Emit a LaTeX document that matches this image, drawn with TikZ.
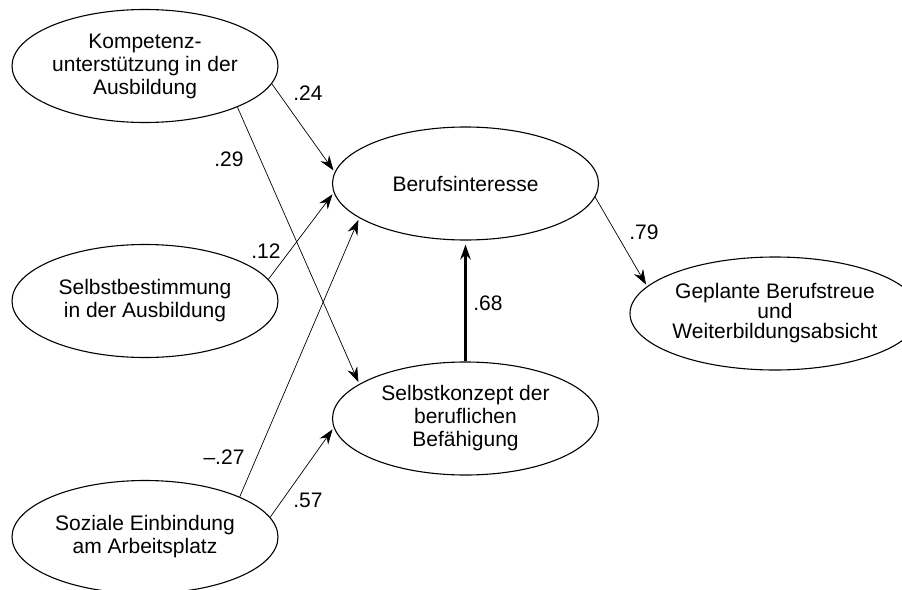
\documentclass[tikz,border=0pt]{standalone}
\usepackage{fontspec}
\setmainfont{Liberation Sans}
\usetikzlibrary{shapes.geometric,arrows.meta}

\begin{document}
\begin{tikzpicture}[x = 1pt, y = -1pt,
        construct/.style = {ellipse, draw, line width = 1.1pt, inner sep = 0pt, minimum width = 266pt, minimum height = 113pt, align = center, font = \fontsize{21}{23}\selectfont},
        weight/.style = {font = \fontsize{21}{23}\selectfont, inner sep = 0pt},
        path/.style = {-{Stealth[length = 15pt, width = 10.5pt, inset = 5pt]}, line width = 0.7pt, shorten > = 2pt}]
        \useasboundingbox (0, 0) rectangle (902, 589);

        % predictors
        \node(Kompetenz)[construct] at (145, 66) {Kompetenz-\\unterstützung in der\\Ausbildung};
        \node(Selbstbestimmung)[construct] at (145, 301) {Selbstbestimmung\\in der Ausbildung};
        \node(Einbindung)[construct] at (145, 537) {Soziale Einbindung\\am Arbeitsplatz};

        % mediators
        \node(Interesse)[construct] at (465.5, 183.5) {Berufsinteresse};
        \node(Selbstkonzept)[construct] at (465.5, 418.5) {Selbstkonzept der\\beruflichen\\Befähigung};

        % outcome
        \node(Berufstreue)[construct, minimum width = 252pt, font = \fontsize{21}{20}\selectfont] at (775, 313.5) {Geplante Berufstreue\\und\\Weiterbildungsabsicht};

        \draw [path] (Kompetenz.-8.4) -- (Interesse.175.6);
        \draw [path] (Kompetenz.-24.3) -- (Selbstkonzept.162);
        \draw [path] (Selbstbestimmung.10.3) -- (Interesse.184.9);
        \draw [path] (Einbindung.23.1) -- (Interesse.198);
        \draw [path] (Einbindung.9.3) -- (Selbstkonzept.184.9);
        \draw [path, line width = 2.2pt, shorten > = 4pt] (Selbstkonzept.90) -- (Interesse.270);
        \draw [path] (Interesse.-6.5) -- (Berufstreue.168.2);

        \node(w24)[weight] at (308, 93) {.24};
        \node(w29)[weight] at (229, 159) {.29};
        \node(w12)[weight] at (266, 251) {.12};
        \node(w27)[weight] at (224, 457) {--.27};
        \node(w57)[weight] at (308, 500) {.57};
        \node(w68)[weight] at (488, 303) {.68};
        \node(w79)[weight] at (644, 232) {.79};

    \end{tikzpicture}
\end{document}
